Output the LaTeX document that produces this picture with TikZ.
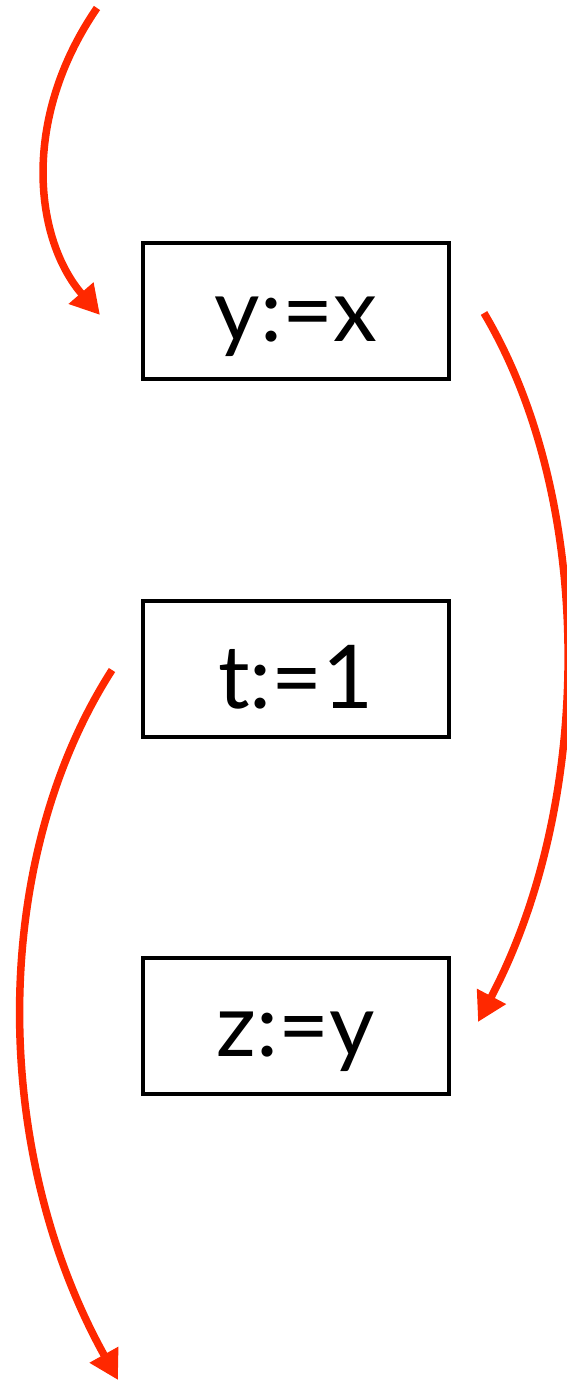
\documentclass[tikz,border=0pt]{standalone}
\usepackage{fontspec}
\setmainfont{Lato}
\usetikzlibrary{arrows.meta}
\definecolor{arrred}{RGB}{255,40,0}
\tikzset{
  stmt/.style={draw=black, line width=4.4pt, minimum width=306pt, minimum height=136pt, inner sep=0pt, font=\fontsize{88}{88}\selectfont},
  flow/.style={draw=arrred, line width=7.5pt, -{Triangle[length=29pt,width=31pt]}}
}
\begin{document}
\begin{tikzpicture}[x=1pt,y=-1pt]
\useasboundingbox (0,0) rectangle (567,1383);
\node[stmt] (a) at (296,311) {\raisebox{-8pt}[\height][0pt]{y:=x}};
\node[stmt] (b) at (296,669) {\raisebox{-8pt}[\height][0pt]{t:=1}};
\node[stmt] (c) at (296,1026) {\raisebox{-8pt}[\height][0pt]{z:=y}};
\coordinate (s1) at (97,8);
\coordinate (e1) at (100,315);
\coordinate (s2) at (484,313);
\coordinate (e2) at (478,1022);
\coordinate (s3) at (112,670);
\coordinate (e3) at (118,1380);
\draw[flow] (s1) .. controls (20,120) and (35,240) .. (e1);
\draw[flow] (s2) .. controls (595,500) and (595,800) .. (e2);
\draw[flow] (s3) .. controls (-10,860) and (-10,1150) .. (e3);
\end{tikzpicture}
\end{document}
